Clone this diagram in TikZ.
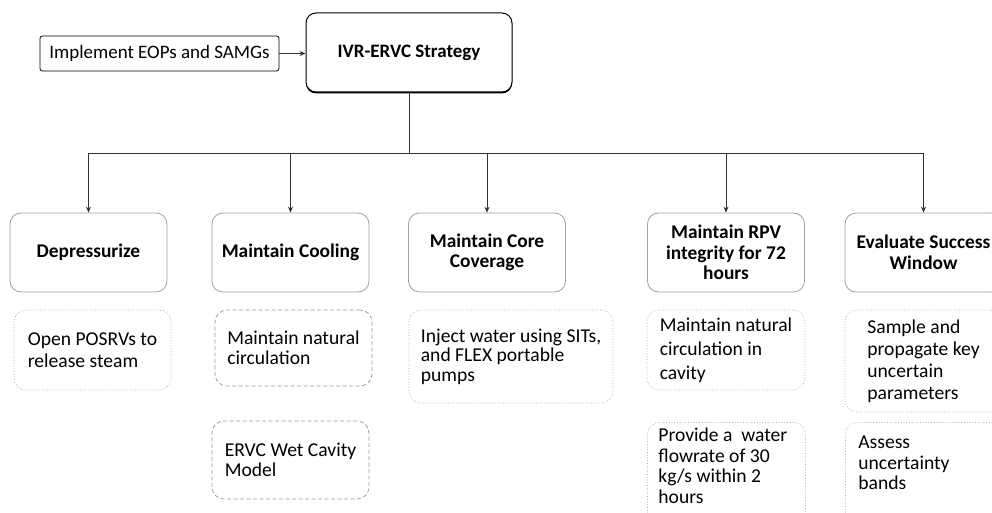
\documentclass[tikz,border=0pt]{standalone}
\usepackage{fontspec}
\setmainfont{Carlito}
\usetikzlibrary{arrows.meta,shadows}
\definecolor{boxgray}{HTML}{A0A0A0}
\definecolor{dotgray}{HTML}{A8A8A8}
\definecolor{dashgray}{HTML}{9A9A9A}
\definecolor{linkgray}{HTML}{333333}
\newcommand\bodyfont[1]{\fontsize{19.6}{#1}\selectfont}
\newcommand\topcell[3]{\parbox[t][#2][t]{#1}{\raggedright\bodyfont{20.5}#3}}
\begin{document}
\begin{tikzpicture}[x=1pt,y=-1pt,
  strategy/.style={draw=black, line width=1pt, rounded corners=10pt, fill=white,
    minimum width=206pt, minimum height=79pt, inner sep=0pt,
    font=\bfseries\fontsize{19}{22}\selectfont,
    drop shadow={shadow xshift=0pt, shadow yshift=-1.5pt, fill=black, opacity=1}},
  input/.style={draw=black, line width=0.8pt, rounded corners=2.5pt,
    minimum width=239pt, minimum height=35pt, inner sep=0pt,
    font=\fontsize{19}{22}\selectfont},
  goal/.style={draw=boxgray, line width=0.8pt, rounded corners=11pt,
    minimum width=157pt, minimum height=79pt, align=center, inner sep=0pt,
    font=\bfseries\fontsize{19.4}{20.5}\selectfont},
  task/.style={draw=dotgray, line width=0.75pt, dotted, rounded corners=12pt,
    align=left, inner sep=0pt},
  taskdash/.style={task, draw=dashgray, dash pattern=on 4pt off 2.5pt},
  link/.style={draw=linkgray, line width=0.8pt},
  arr/.style={link, -{Stealth[length=6pt,width=5pt]}},
]
\useasboundingbox (0,0) rectangle (992,513);
\clip (0,0) rectangle (992,513);
\fill[white] (0,0) rectangle (992,513);

% top level
\node[input] (eop) at (159.5,53.5) {Implement EOPs and SAMGs};
\node[strategy] (ivr) at (409,52.5) {IVR-ERVC Strategy};
\draw[arr] (eop.east) -- (eop.east -| ivr.west);

% goals
\node[goal] (g1) at (88.5,252.5) {Depressurize};
\node[goal] (g2) at (290.5,252.5) {Maintain Cooling};
\node[goal] (g3) at (487,252.5) {Maintain Core\\Coverage};
\node[goal] (g4) at (726,252.5) {Maintain RPV\\integrity for 72\\hours};
\node[goal] (g5) at (923.5,252.5) {Evaluate Success\\Window};

% distribution bus
\coordinate (bus) at (409,153);
\draw[link] (ivr.south) -- (bus);
\draw[link] (bus -| g1) -- (bus -| g5);
\foreach \g in {g1,g2,g3,g4,g5}
  \draw[arr] (bus -| \g) -- (\g.north);

% actions
\node[task, minimum width=157pt, minimum height=80pt, font=\bodyfont{22}]
  (t1) at (92.5,350) {Open POSRVs to\\release steam};
\node[taskdash, minimum width=157pt, minimum height=76pt, font=\bodyfont{20}]
  (t2a) at (293.5,348) {Maintain natural\\circulation};
\node[taskdash, minimum width=157pt, minimum height=78pt, font=\bodyfont{20}]
  (t2b) at (290.5,460) {ERVC Wet Cavity\\Model};
\node[task, minimum width=204pt, minimum height=93pt, font=\bodyfont{19.5}]
  (t3) at (511,356.5) {Inject water using SITs,\\and FLEX portable\\pumps};
\node[task, minimum width=158pt, minimum height=80pt, font=\bodyfont{24}]
  (t4a) at (726,350) {Maintain natural\\circulation in\\cavity};
\node[task, anchor=north west, inner xsep=11pt, inner ysep=6pt]
  (t4b) at (647,422) {\topcell{136pt}{92pt}{Provide a~ water\\flowrate of 30\\kg/s within 2\\hours}};
\node[task, minimum width=157pt, minimum height=102pt, font=\bodyfont{22}]
  (t5a) at (923.5,361) {Sample and\\propagate key\\uncertain\\parameters};
\node[task, anchor=north west, inner xsep=13pt, inner ysep=14pt]
  (t5b) at (845,422) {\topcell{144pt}{80pt}{Assess\\uncertainty\\bands}};
\end{tikzpicture}
\end{document}
